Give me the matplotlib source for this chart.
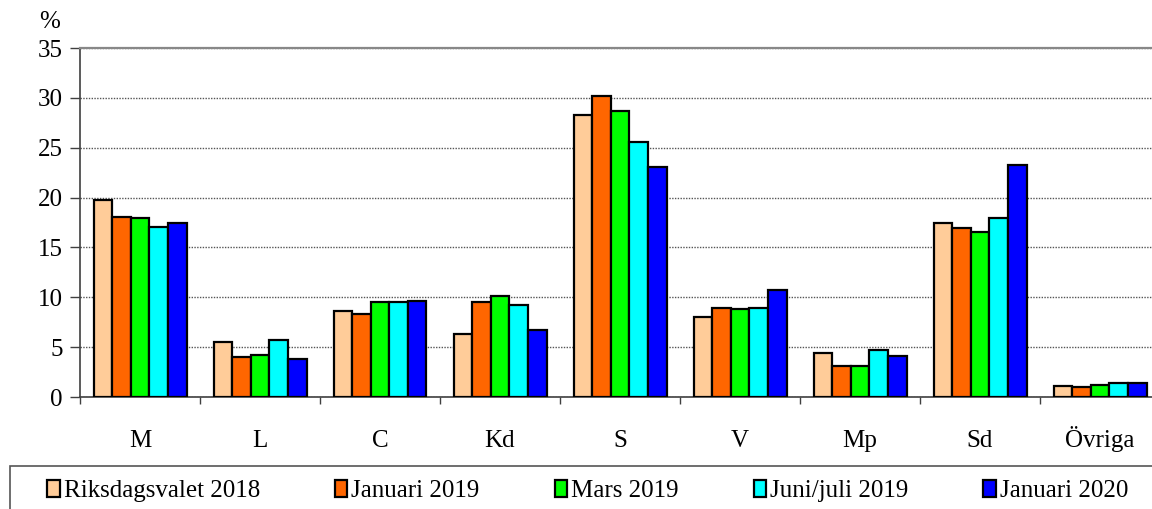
import numpy as np
import matplotlib
matplotlib.use("Agg")
import matplotlib.pyplot as plt
from matplotlib.patches import Rectangle, Patch

plt.rcParams['font.family'] = ['Liberation Serif', 'DejaVu Serif']

partier = ['M', 'L', 'C', 'Kd', 'S', 'V', 'Mp', 'Sd', 'Övriga']
serier = ['Riksdagsvalet 2018', 'Januari 2019', 'Mars 2019', 'Juni/juli 2019', 'Januari 2020']
val_2018 = [19.8, 5.5, 8.6, 6.3, 28.3, 8.0, 4.4, 17.5, 1.1]
jan_2019 = [18.1, 4.0, 8.3, 9.5, 30.2, 8.9, 3.1, 16.9, 1.0]
mar_2019 = [18.0, 4.2, 9.5, 10.1, 28.7, 8.8, 3.1, 16.5, 1.2]
jun_2019 = [17.0, 5.7, 9.5, 9.2, 25.6, 8.9, 4.7, 18.0, 1.4]
jan_2020 = [17.4, 3.8, 9.6, 6.7, 23.1, 10.7, 4.1, 23.3, 1.4]
yticks = [0, 5, 10, 15, 20, 25, 30, 35]

data = [val_2018, jan_2019, mar_2019, jun_2019, jan_2020]
farger = ['#FFCC99', '#FF6600', '#00FF00', '#00FFFF', '#0000FF']

fs = 18
fig = plt.figure(figsize=(11.52, 5.09), dpi=100)
W, H = 1152, 509
ax = fig.add_axes([80 / W, (H - 397) / H, 1080 / W, 349 / H])

x = np.arange(len(partier))
bw = 0.155
for i, (vals, c) in enumerate(zip(data, farger)):
    ax.bar(x + (i - 2) * bw, vals, bw, color=c, edgecolor='black', linewidth=1.6, zorder=3)

ax.set_xlim(-0.5, len(partier) - 0.5)
ax.set_ylim(0, 35)
ax.set_yticks(yticks)
ax.set_yticklabels([str(v) for v in yticks], fontsize=fs)
ax.yaxis.grid(True, linestyle=(0, (1, 1)), color='#555555', linewidth=1.0, zorder=0)

ax.set_xticks(x)
ax.set_xticklabels(partier, fontsize=fs, va='baseline')
ax.tick_params(axis='x', which='major', length=0, pad=36)
ax.set_xticks(np.arange(len(partier) + 1) - 0.5, minor=True)
ax.tick_params(axis='x', which='minor', length=5, width=1, color='#404040', direction='out')
ax.tick_params(axis='y', length=7, width=1, color='#404040', direction='out', pad=5.5)

ax.spines['right'].set_visible(False)
ax.spines['top'].set_color('#888888')
ax.spines['top'].set_linewidth(1.6)
ax.spines['left'].set_color('#404040')
ax.spines['left'].set_linewidth(1.2)
ax.spines['bottom'].set_color('#404040')
ax.spines['bottom'].set_linewidth(1.2)

fig.text(50 / W, 1 - 22 / H, '%', fontsize=fs, ha='center', va='center')

# legend frame (cut off at right and bottom like the original)
fig.patches.append(Rectangle((10 / W, -0.05), 1.1, (H - 466) / H + 0.05,
                             transform=fig.transFigure, fill=False,
                             edgecolor='#555555', linewidth=1.2))
handles = [Patch(facecolor=c, edgecolor='black', linewidth=1.6) for c in farger]
fig.legend(handles, serier, loc='center left', bbox_to_anchor=(47 / W, 1 - 491 / H),
           ncol=5, frameon=False, fontsize=fs, handlelength=0.5, handleheight=0.65,
           handletextpad=0.16, columnspacing=3.0, borderaxespad=0, borderpad=0)

fig.savefig('out.png', dpi=100)
